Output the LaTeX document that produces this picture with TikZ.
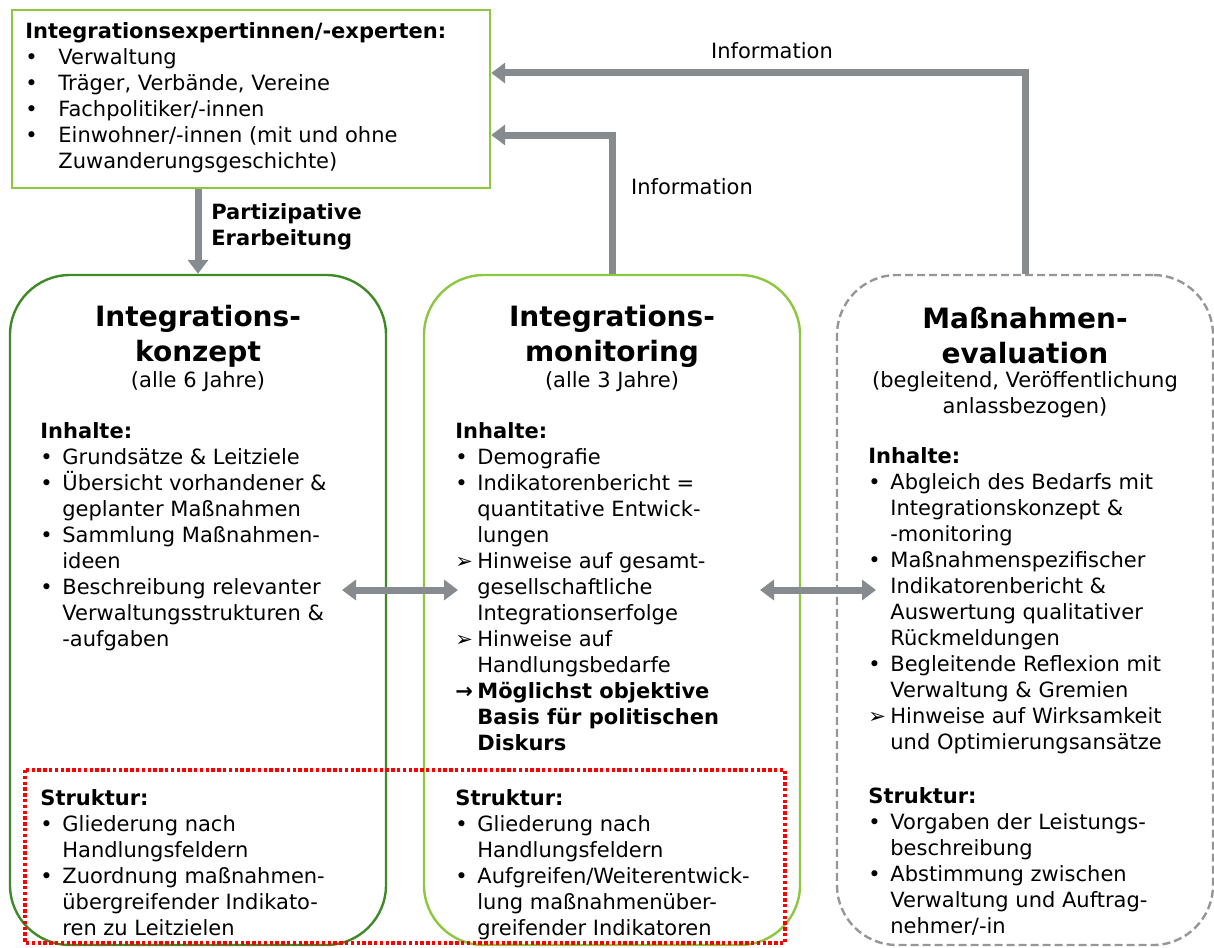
\documentclass[tikz,border=0pt]{standalone}
\usepackage{fontspec}
\setmainfont{DejaVu Sans}
\usepackage{tikz}
\usetikzlibrary{arrows.meta, positioning}
\definecolor{darkgreen}{RGB}{62,138,38}
\definecolor{lightgreen}{RGB}{141,198,63}
\definecolor{arrowgray}{RGB}{134,139,144}
\definecolor{dashgray}{RGB}{150,150,150}
\newcommand{\bl}{\makebox[11pt][l]{•}}
\newcommand{\tb}{\makebox[16.5pt][l]{•}}
\newcommand{\hw}{\makebox[11pt][l]{➢}}
\newcommand{\ind}{\hspace*{11pt}}

\begin{document}
\begin{tikzpicture}[
    x=0.5pt, y=-0.5pt,
    panel/.style={rectangle, rounded corners=30pt, line width=1.2pt,
                  minimum width=188pt, minimum height=335pt},
    body/.style={align=left, inner sep=0pt, anchor=north west,
                 font=\fontsize{10.5}{13}\selectfont},
    title/.style={align=center, inner sep=0pt, font=\fontsize{14}{17.5}\selectfont\bfseries},
    sub/.style={align=center, inner sep=0pt, font=\fontsize{10.5}{13}\selectfont},
    flow/.style={draw=arrowgray, line width=3.5pt, -{Triangle[width=10pt,length=7pt]}},
    flowboth/.style={draw=arrowgray, line width=3.5pt,
                     {Triangle[width=10pt,length=7pt]}-{Triangle[width=10pt,length=7pt]}}
]
    \useasboundingbox (0,0) rectangle (1214,947);

    % boxes
    \node[draw=lightgreen, line width=1.2pt, minimum width=239pt, minimum height=89pt] (experts) at (251,99) {};
    \node[panel, draw=darkgreen] (konzept) at (198,610) {};
    \node[panel, draw=lightgreen] (monitor) at (612,610) {};
    \node[panel, draw=dashgray, dash pattern=on 4pt off 2pt] (evaluation) at (1025,610) {};

    % experts
    \node[body] (expText) at (25,22) {\textbf{Integrationsexpertinnen/-experten:}\\
        \tb Verwaltung\\
        \tb Träger, Verbände, Vereine\\
        \tb Fachpolitiker/-innen\\
        \tb Einwohner/-innen (mit und ohne\\
        \hspace*{16.5pt}Zuwanderungsgeschichte)};

    % titles
    \node[title] (kTitle) at (198,336) {Integrations-\\konzept};
    \node[sub] (kSub) at (198,382) {(alle 6 Jahre)};
    \node[title] (mTitle) at (612,336) {Integrations-\\monitoring};
    \node[sub] (mSub) at (612,382) {(alle 3 Jahre)};
    \node[title] (eTitle) at (1025,336) {Maßnahmen-\\evaluation};
    \node[sub] (eSub) at (1025,395) {(begleitend, Veröffentlichung\\anlassbezogen)};

    % Inhalte
    \node[body] (kInhalt) at (40,422) {\textbf{Inhalte:}\\
        \bl Grundsätze \& Leitziele\\
        \bl Übersicht vorhandener \&\\
        \ind geplanter Maßnahmen\\
        \bl Sammlung Maßnahmen-\\
        \ind ideen\\
        \bl Beschreibung relevanter\\
        \ind Verwaltungsstrukturen \&\\
        \ind -aufgaben};
    \node[body] (mInhalt) at (455,422) {\textbf{Inhalte:}\\
        \bl Demografie\\
        \bl Indikatorenbericht =\\
        \ind quantitative Entwick-\\
        \ind lungen\\
        \hw Hinweise auf gesamt-\\
        \ind gesellschaftliche\\
        \ind Integrationserfolge\\
        \hw Hinweise auf\\
        \ind Handlungsbedarfe\\
        \textbf{\makebox[11pt][l]{→}Möglichst objektive}\\
        \ind\textbf{Basis für politischen}\\
        \ind\textbf{Diskurs}};
    \node[body] (eInhalt) at (868,447) {\textbf{Inhalte:}\\
        \bl Abgleich des Bedarfs mit\\
        \ind Integrationskonzept \&\\
        \ind -monitoring\\
        \bl Maßnahmenspezifischer\\
        \ind Indikatorenbericht \&\\
        \ind Auswertung qualitativer\\
        \ind Rückmeldungen\\
        \bl Begleitende Reflexion mit\\
        \ind Verwaltung \& Gremien\\
        \hw Hinweise auf Wirksamkeit\\
        \ind und Optimierungsansätze};

    % Struktur
    \node[body] (kStruktur) at (40,789) {\textbf{Struktur:}\\
        \bl Gliederung nach\\
        \ind Handlungsfeldern\\
        \bl Zuordnung maßnahmen-\\
        \ind übergreifender Indikato-\\
        \ind ren zu Leitzielen};
    \node[body] (mStruktur) at (455,789) {\textbf{Struktur:}\\
        \bl Gliederung nach\\
        \ind Handlungsfeldern\\
        \bl Aufgreifen/Weiterentwick-\\
        \ind lung maßnahmenüber-\\
        \ind greifender Indikatoren};
    \node[body] (eStruktur) at (868,787) {\textbf{Struktur:}\\
        \bl Vorgaben der Leistungs-\\
        \ind beschreibung\\
        \bl Abstimmung zwischen\\
        \ind Verwaltung und Auftrag-\\
        \ind nehmer/-in};

    % connectors
    \coordinate (infoA) at (experts.east |- 0,135);
    \coordinate (infoB) at (experts.east |- 0,73);
    \draw[flow] (konzept.north |- experts.south) -- (konzept.north);
    \draw[flow] (monitor.north) |- (infoA);
    \draw[flow] (evaluation.north) |- (infoB);

    \coordinate (kRight) at (342,590);
    \coordinate (mLeft) at (458,590);
    \coordinate (mRight) at (760,590);
    \coordinate (eLeft) at (876,590);
    \draw[flowboth] (kRight) -- (mLeft);
    \draw[flowboth] (mRight) -- (eLeft);

    \node[font=\fontsize{10.5}{13}\selectfont\bfseries, align=left, anchor=west, inner sep=0pt] at (211,227) {Partizipative\\Erarbeitung};
    \node[font=\fontsize{10.5}{13}\selectfont] at (692,187) {Information};
    \node[font=\fontsize{10.5}{13}\selectfont] at (772,51) {Information};

    % red frame round the Struktur parts
    \draw[red, line width=1.7pt, dash pattern=on 1.7pt off 1.2pt] (25,770) rectangle (785,943);
\end{tikzpicture}
\end{document}
